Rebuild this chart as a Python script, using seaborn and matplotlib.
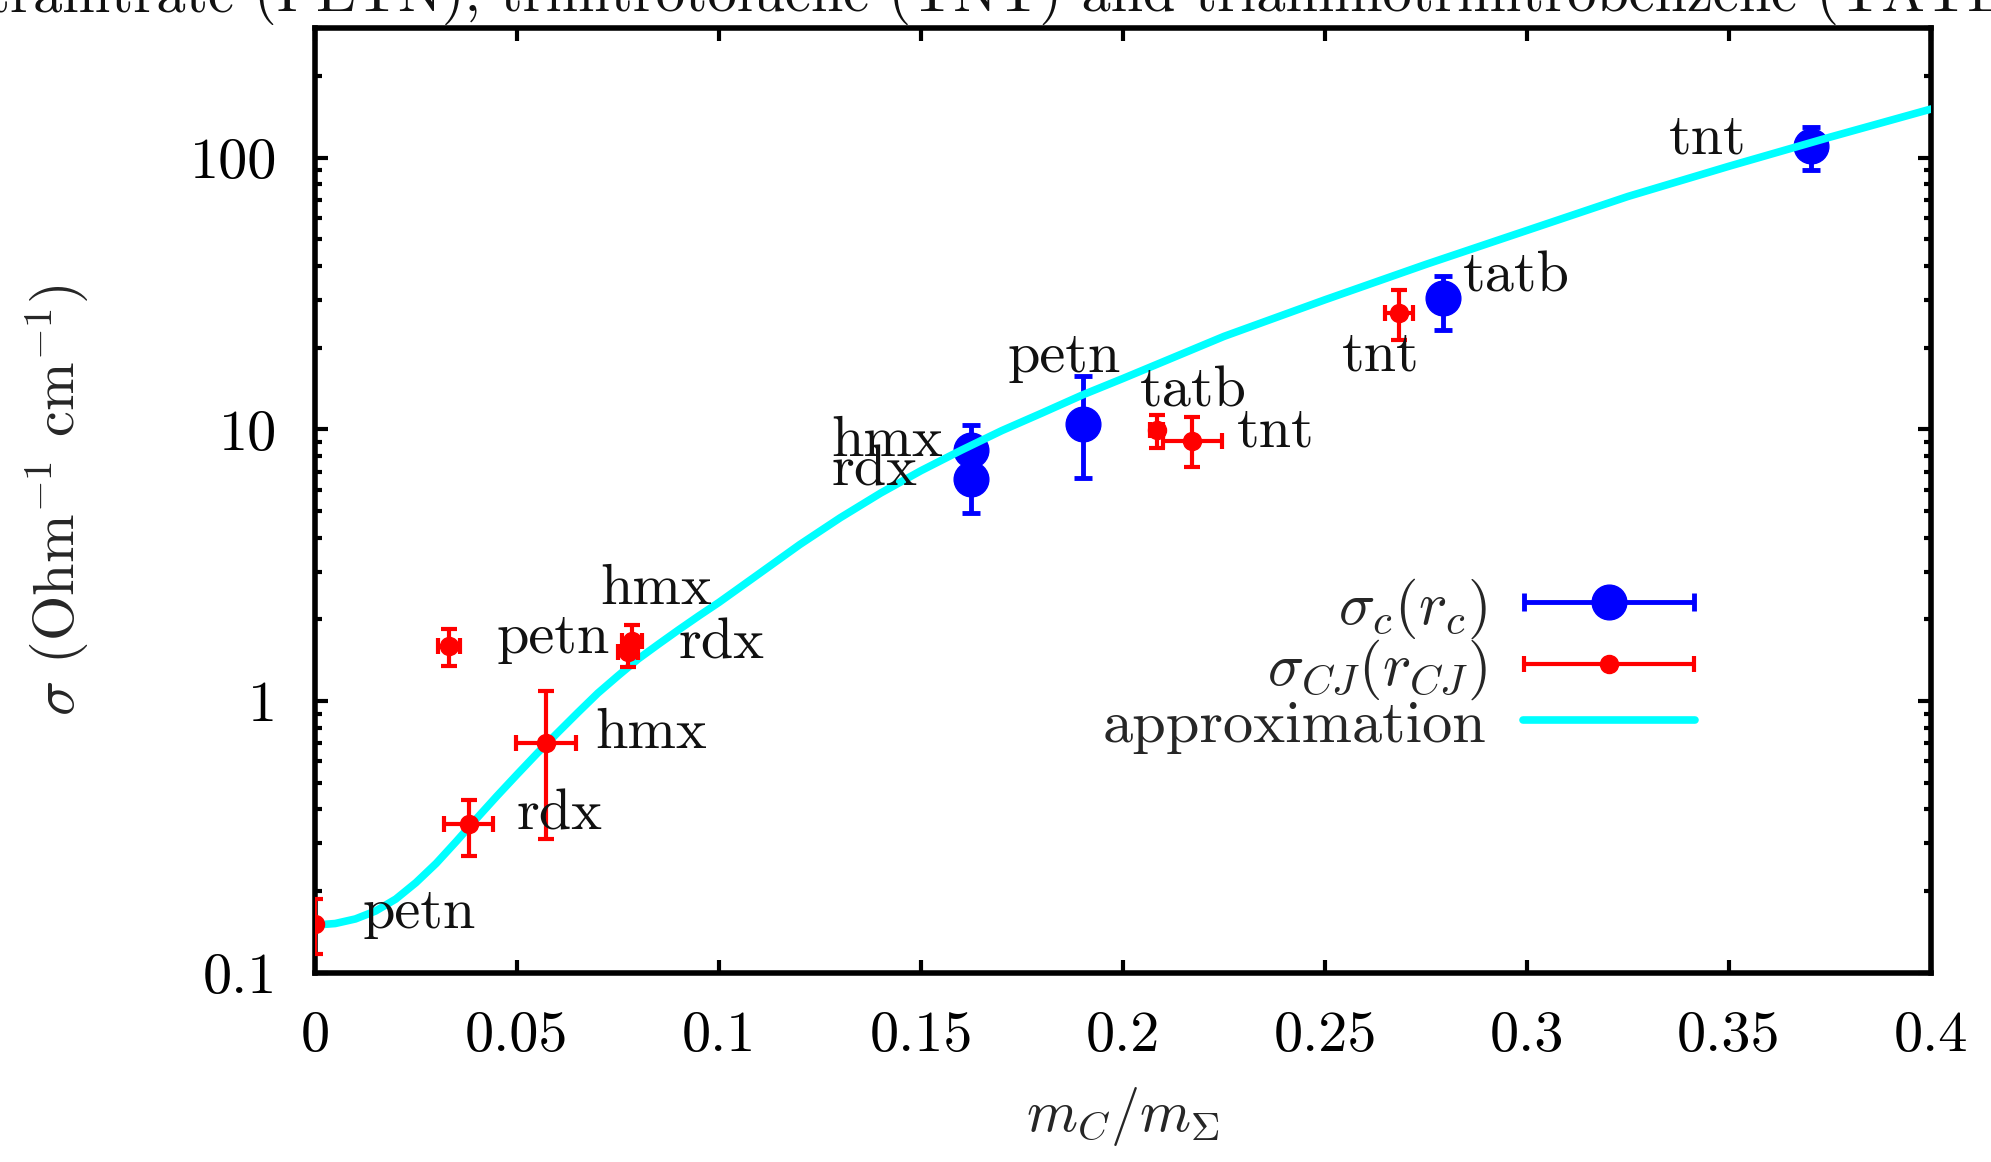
import matplotlib
matplotlib.use('Agg')
import matplotlib.pyplot as plt
from matplotlib.ticker import LogLocator, NullFormatter
from matplotlib.container import ErrorbarContainer
from matplotlib.legend_handler import HandlerErrorbar
from matplotlib.lines import Line2D
import numpy as np
import seaborn as sns

sns.set_theme(style='ticks')
plt.rcParams['font.family'] = 'serif'
plt.rcParams['font.serif'] = ['cmr10']
plt.rcParams['mathtext.fontset'] = 'cm'
plt.rcParams['axes.formatter.use_mathtext'] = True
plt.rcParams['axes.unicode_minus'] = False

# sigma_CJ(r_CJ), red points
cj_x = [0.000, 0.0332, 0.038, 0.0572, 0.0775, 0.0785, 0.2083, 0.2171, 0.2683]
cj_xerr = [0.0, 0.0028, 0.0061, 0.0074, 0.0025, 0.0025, 0.0015, 0.0073, 0.0034]
cj_y = [0.152, 1.60, 0.352, 0.70, 1.52, 1.66, 9.97, 9.03, 26.8]
cj_lo = [0.035, 0.25, 0.082, 0.39, 0.18, 0.20, 1.44, 1.77, 5.4]
cj_hi = [0.035, 0.24, 0.082, 0.39, 0.18, 0.25, 1.33, 2.07, 5.9]

# sigma_c(r_c), blue points
c_x = [0.1623, 0.1623, 0.1901, 0.2792, 0.3702]
c_y = [8.4, 6.55, 10.5, 30.4, 110.0]
c_lo = [2.0, 1.63, 3.9, 7.1, 20.0]
c_hi = [2.0, 1.60, 5.2, 6.2, 20.0]

# approximation curve
ap_x = [0.000, 0.005, 0.010, 0.015, 0.020, 0.025, 0.030, 0.035, 0.040, 0.045,
        0.050, 0.055, 0.060, 0.065, 0.070, 0.075, 0.080, 0.085, 0.090, 0.095,
        0.100, 0.110, 0.120, 0.130, 0.140, 0.150, 0.160, 0.170, 0.180, 0.190,
        0.200, 0.225, 0.250, 0.275, 0.300, 0.325, 0.350, 0.375, 0.400]
ap_y = [0.150, 0.152, 0.158, 0.169, 0.187, 0.215, 0.253, 0.305, 0.370, 0.447,
        0.537, 0.643, 0.764, 0.906, 1.07, 1.24, 1.43, 1.62, 1.83, 2.06,
        2.31, 2.95, 3.77, 4.73, 5.83, 7.05, 8.39, 9.9, 11.5, 13.4,
        15.4, 22.0, 30.0, 40.5, 54.0, 72.0, 93.0, 119.0, 151.0]

# point labels
lab_text = ['petn', 'rdx', 'hmx', 'petn', 'rdx', 'hmx', 'hmx', 'rdx', 'petn',
            'tatb', 'tnt', 'tnt', 'tatb', 'tnt']
lab_x = [0.0118, 0.0498, 0.0694, 0.045, 0.090, 0.0707, 0.1279, 0.1279, 0.1854,
         0.2175, 0.2281, 0.2638, 0.2841, 0.3543]
lab_y = [0.146, 0.338, 0.67, 1.50, 1.44, 2.27, 8.0, 6.2, 16.3,
         12.1, 8.63, 16.5, 32.1, 103.7]
lab_ha = ['left', 'left', 'left', 'left', 'left', 'left', 'left', 'left', 'center',
          'center', 'left', 'center', 'left', 'right']

xticks = [0, 0.05, 0.1, 0.15, 0.2, 0.25, 0.3, 0.35, 0.4]
xtick_labels = ['0', '0.05', '0.1', '0.15', '0.2', '0.25', '0.3', '0.35', '0.4']
yticks = [0.1, 1, 10, 100]
ytick_labels = ['0.1', '1', '10', '100']

FS = 42

fig = plt.figure(figsize=(19.91, 11.62), dpi=100)
ax = fig.add_axes([0.1582, 0.1627, 0.8117, 0.8132])
ax.set_yscale('log')

ax.errorbar(c_x, c_y, yerr=[c_lo, c_hi], fmt='o', color='blue', ms=25,
            elinewidth=3.5, capsize=6.5, capthick=3.5, zorder=3)
sns.lineplot(x=ap_x, y=ap_y, ax=ax, color='cyan', lw=5.5, zorder=4)
ax.errorbar(cj_x, cj_y, yerr=[cj_lo, cj_hi], xerr=cj_xerr, fmt='o', color='red',
            ms=13, elinewidth=3, capsize=6, capthick=3, zorder=5)

for t, x, y, ha in zip(lab_text, lab_x, lab_y, lab_ha):
    ax.text(x, y, t, ha=ha, va='baseline', fontsize=FS, color='#111111', zorder=6)

ax.set_xlim(0, 0.4)
ax.set_ylim(0.1, 300)
ax.set_xticks(xticks, labels=xtick_labels)
ax.set_yticks(yticks, labels=ytick_labels)
ax.yaxis.set_minor_locator(LogLocator(base=10, subs=np.arange(2, 10)))
ax.yaxis.set_minor_formatter(NullFormatter())
ax.tick_params(which='both', direction='in', top=True, right=True, colors='black')
ax.tick_params(which='major', length=9.5, width=3, pad=27, labelsize=FS)
ax.tick_params(which='minor', length=5, width=3)
for s in ax.spines.values():
    s.set_linewidth(4)
    s.set_color('black')
ax.grid(False)

ax.set_xlabel(r'$m_C/m_\Sigma$', fontsize=FS, va='center')
ax.xaxis.set_label_coords(0.5, -0.152)
ax.set_ylabel(r'$\sigma$ (Ohm$^{-1}$ cm$^{-1}$)', fontsize=FS, va='center')
ax.yaxis.set_label_coords(-0.16, 0.5)

# legend proxies drawn like gnuplot samples
h_c = ax.errorbar([np.nan], [np.nan], xerr=[1], fmt='o', color='blue', ms=25,
                  elinewidth=3.5, capsize=6.5, capthick=3.5)
h_cj = ax.errorbar([np.nan], [np.nan], xerr=[1], fmt='o', color='red', ms=13,
                   elinewidth=3, capsize=6, capthick=3)
h_ap = Line2D([], [], color='cyan', lw=5.5)
ax.legend([h_c, h_cj, h_ap],
          [r'$\sigma_c(r_c)$', r'$\sigma_{CJ}(r_{CJ})$', 'approximation'],
          markerfirst=False, frameon=False, loc='center right',
          bbox_to_anchor=(0.854, 0.326), fontsize=43.5, handlelength=2.85,
          handletextpad=0.6, labelspacing=-0.05, borderpad=0, borderaxespad=0,
          numpoints=1, handler_map={ErrorbarContainer: HandlerErrorbar(xerr_size=1.41)})

# title line, clipped at the top of the picture
ty = 1 - 11 / 1162
fig.text(254 / 1991, ty, '(PETN), trinitrotoluene (TNT) and triaminotrinitrobenzene (TATB)',
         ha='left', va='baseline', fontsize=FS, color='#111111')
fig.text(235 / 1991, ty, 'tetranitrate', ha='right', va='baseline', fontsize=FS,
         color='#111111')

fig.savefig('out.png', dpi=100)
